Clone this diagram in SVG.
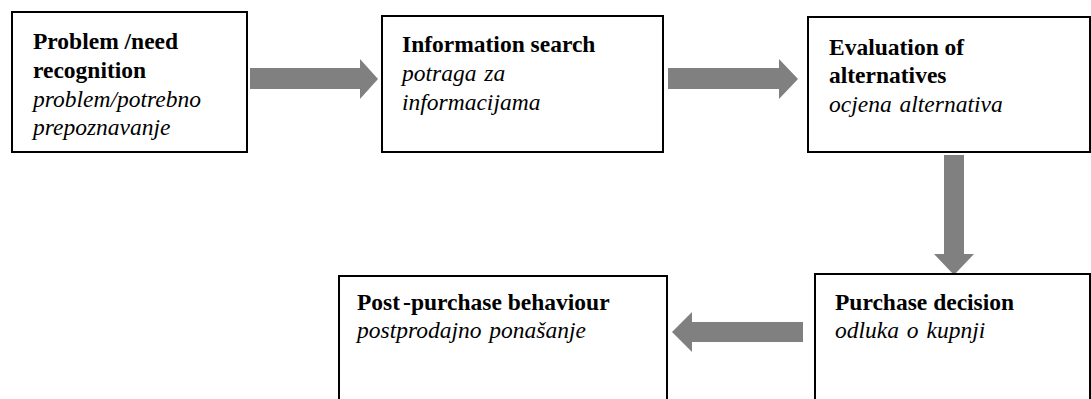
<svg xmlns="http://www.w3.org/2000/svg" width="1091" height="399" viewBox="0 0 1091 399">
<style>
.box{fill:#fff;stroke:#000;stroke-width:2}
.arr{fill:#808080}
.b{font-family:"Liberation Serif","Times New Roman",serif;font-size:23.5px;font-weight:bold;fill:#000}
.i{font-family:"Liberation Serif","Times New Roman",serif;font-size:23.5px;font-style:italic;fill:#000;word-spacing:2px}
</style>
<rect width="1091" height="399" fill="#fff"/>
<g id="connectors">
<polygon class="arr" points="250,68 360,68 360,59 378,79 360,99 360,89 250,89"/>
<polygon class="arr" points="668,68 779,68 779,59 798,79 779,99 779,89 668,89"/>
<polygon class="arr" points="944,155 964,155 964,254 974,254 954,275 934,254 944,254"/>
<polygon class="arr" points="803,322 692,322 692,312 672,332 692,352 692,342 803,342"/>
</g>
<g id="node-problem">
<rect class="box" x="12" y="12" width="235" height="140"/>
<text class="b" x="33" y="49">Problem /need</text>
<text class="b" x="33" y="78">recognition</text>
<text class="i" x="33" y="107">problem/potrebno</text>
<text class="i" x="33" y="135">prepoznavanje</text>
</g>
<g id="node-search">
<rect class="box" x="382" y="16" width="281" height="136"/>
<text class="b" x="402" y="52">Information search</text>
<text class="i" x="402" y="81">potraga za</text>
<text class="i" x="402" y="110">informacijama</text>
</g>
<g id="node-evaluation">
<rect class="box" x="808" y="17" width="282" height="135"/>
<text class="b" x="829" y="55">Evaluation of</text>
<text class="b" x="829" y="83">alternatives</text>
<text class="i" x="829" y="112">ocjena alternativa</text>
</g>
<g id="node-decision">
<rect class="box" x="815" y="274" width="275" height="140"/>
<text class="b" x="835" y="310">Purchase decision</text>
<text class="i" x="835" y="338">odluka o kupnji</text>
</g>
<g id="node-post">
<rect class="box" x="339" y="276" width="328" height="140"/>
<text class="b" x="357" y="310">Post<tspan dx="3">-purchase behaviour</tspan></text>
<text class="i" x="357" y="338">postprodajno ponašanje</text>
</g>
</svg>
